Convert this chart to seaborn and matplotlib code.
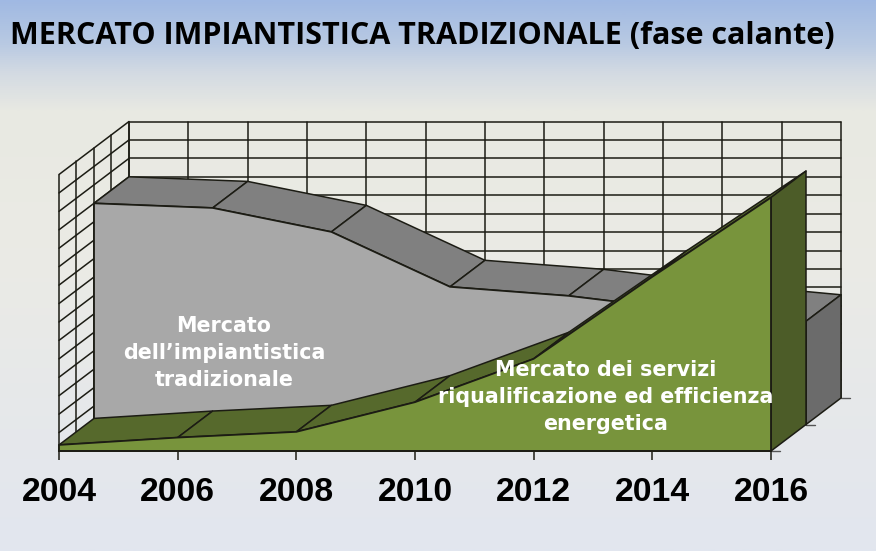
import numpy as np
import pandas as pd
import matplotlib.pyplot as plt
from matplotlib.colors import LinearSegmentedColormap
import seaborn as sns

years = [2004, 2006, 2008, 2010, 2012, 2014, 2016]
traditional = [12.0, 11.75, 10.45, 7.47, 6.98, 6.2, 5.6]
services = [0.33, 0.73, 1.04, 2.65, 5.0, 9.45, 13.75]

title = 'MERCATO IMPIANTISTICA TRADIZIONALE (fase calante)'
label_traditional = 'Mercato\ndell\u2019impiantistica\ntradizionale'
label_services = 'Mercato dei servizi\nriqualificazione ed efficienza\nenergetica'

W, H = 876, 551
LEFT, RIGHT, BASE, TOP = 59, 771, 451, 174.5
YMAX = 15
# one full step of depth, in data units
DEPTH_X = 70 / ((RIGHT - LEFT) / 12)
DEPTH_Y = 53 / ((BASE - TOP) / YMAX)
LINE = '#1c1c14'

sns.set_theme(style='white')
plt.rcParams['font.family'] = ['Liberation Sans', 'DejaVu Sans']


def pt(year, value, depth=0.0):
    """Project a point of the 3D chart on the front plane."""
    return year + depth * DEPTH_X, value + depth * DEPTH_Y


def facet(ax, points, color, zorder, lw=1.1):
    xy = [pt(*p) for p in points]
    ax.fill([p[0] for p in xy], [p[1] for p in xy], facecolor=color,
            edgecolor=LINE, lw=lw, zorder=zorder, clip_on=False, joinstyle='round')


def segment(ax, a, b, zorder=1, lw=1.1, color=LINE):
    xy = pd.DataFrame([pt(*a), pt(*b)], columns=['x', 'y'])
    sns.lineplot(data=xy, x='x', y='y', ax=ax, color=color, lw=lw, zorder=zorder,
                 sort=False, estimator=None, clip_on=False, legend=False)


def draw_walls(ax):
    first, last = years[0], years[-1]
    for v in range(YMAX + 1):
        segment(ax, (first, v, 1), (last, v, 1))
        segment(ax, (first, v, 0), (first, v, 1))
    for y in range(first, last + 1):
        segment(ax, (y, 0, 1), (y, YMAX, 1))
    for d in [0, 0.25, 0.5, 0.75, 1]:
        segment(ax, (first, 0, d), (first, YMAX, d))


def draw_area(ax, values, d0, d1, front, top, side, z):
    for i in range(len(years) - 1):
        facet(ax, [(years[i], values[i], d0), (years[i + 1], values[i + 1], d0),
                   (years[i + 1], values[i + 1], d1), (years[i], values[i], d1)], top, z)
    last = years[-1]
    facet(ax, [(last, 0, d0), (last, values[-1], d0),
               (last, values[-1], d1), (last, 0, d1)], side, z + 1)
    outline = [(years[0], 0, d0)] + [(y, v, d0) for y, v in zip(years, values)] + [(last, 0, d0)]
    facet(ax, outline, front, z + 2, lw=1.3)


def main():
    fig = plt.figure(figsize=(W / 100, H / 100), dpi=100)

    # slide background
    bg_ax = fig.add_axes([0, 0, 1, 1], zorder=-1)
    cmap = LinearSegmentedColormap.from_list('slide', [
        (0.0, '#a0b9e3'), (0.08, '#b9cae2'), (0.13, '#d3dae3'), (0.2, '#e8e9e2'),
        (0.45, '#ebebe5'), (1.0, '#e2e6ef')])
    bg_ax.imshow(np.linspace(0, 1, 512).reshape(-1, 1), cmap=cmap, aspect='auto')
    bg_ax.axis('off')

    ax = fig.add_axes([LEFT / W, 1 - BASE / H, (RIGHT - LEFT) / W, (BASE - TOP) / H])
    ax.patch.set_alpha(0)
    ax.set_xlim(years[0], years[-1])
    ax.set_ylim(0, YMAX)

    draw_walls(ax)
    draw_area(ax, traditional, 0.5, 1.0, '#a8a8a8', '#808080', '#6b6b6b', 5)
    draw_area(ax, services, 0.0, 0.5, '#78943c', '#56692c', '#4c5c28', 10)

    # floor corner ticks on the right side
    for d in [0, 0.5, 1]:
        segment(ax, (years[-1], 0, d), (years[-1] + 0.16, 0, d), zorder=3, lw=1, color='#555555')

    ax.set_xticks(years)
    ax.set_xticklabels(years, fontsize=24.3, fontweight='bold', color='black')
    ax.set_yticks([])
    ax.set_xlabel('')
    ax.set_ylabel('')
    ax.tick_params(axis='x', length=6.5, width=1.1, color=LINE, pad=12, bottom=True)
    sns.despine(ax=ax, left=True, right=True, top=True)
    ax.spines['bottom'].set_color(LINE)
    ax.spines['bottom'].set_linewidth(1.3)
    ax.spines['bottom'].set_zorder(20)

    fig.text(10 / W, 1 - 36 / H, title, fontsize=22, fontweight='bold', color='black',
             family=['Open Sans', 'DejaVu Sans'], va='center', ha='left')
    fig.text(224 / W, 1 - 353 / H, label_traditional, fontsize=14.9, fontweight='bold', color='white',
             family=['DejaVu Sans'], ha='center', va='center', linespacing=1.43, zorder=30)
    fig.text(606 / W, 1 - 397 / H, label_services, fontsize=14.9, fontweight='bold', color='white',
             family=['DejaVu Sans'], ha='center', va='center', linespacing=1.43, zorder=30)

    fig.savefig('out.png', dpi=100)
    plt.close(fig)


if __name__ == '__main__':
    main()
